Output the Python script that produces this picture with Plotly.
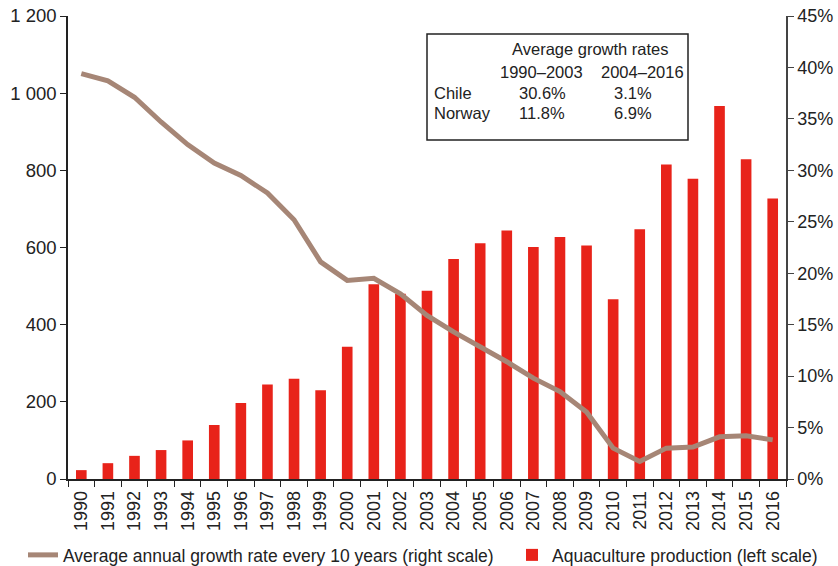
import plotly.graph_objects as go

years = [str(y) for y in range(1990, 2017)]
production = [23, 41, 60, 75, 100, 140, 197, 245, 260, 230, 343, 505, 480, 488,
              570, 611, 644, 601, 627, 605, 466, 647, 815, 778, 967, 829, 727]
growth_rate = [39.4, 38.7, 37.1, 34.7, 32.5, 30.7, 29.5, 27.8, 25.2, 21.1, 19.3, 19.5, 18.0,
               15.9, 14.3, 12.9, 11.4, 9.8, 8.5, 6.5, 3.0, 1.7, 3.0, 3.1, 4.1, 4.2, 3.8]

left_ticks = [0, 200, 400, 600, 800, 1000, 1200]
left_labels = ["0", "200", "400", "600", "800", "1 000", "1 200"]
right_ticks = [0, 5, 10, 15, 20, 25, 30, 35, 40, 45]
right_labels = [f"{v}%" for v in right_ticks]

table_header = "Average growth rates"
table_periods = ["1990\u20132003", "2004\u20132016"]
table_countries = ["Chile", "Norway"]
table_values = [["30.6%", "3.1%"], ["11.8%", "6.9%"]]

FONT = "Liberation Sans, Arial, sans-serif"
RED = "#e8231a"
BROWN = "#a68676"
TXT = "#222222"

# Figure fills the window (page body margin is removed below)
W, H = 838, 566
# plot area in pixels
L, R, T, B = 68, 786, 16, 479

def px_x(px):
    return (px - L) / (R - L)

def px_y(py):
    return (B - py) / (B - T)

fig = go.Figure()
fig.add_trace(go.Scatter(
    x=years, y=growth_rate, yaxis="y2", mode="lines",
    line=dict(color=BROWN, width=5), legend="legend",
    name="Average annual growth rate every 10 years (right scale)"))
fig.add_trace(go.Bar(
    x=years, y=production, marker=dict(color=RED, line=dict(width=0)),
    width=0.4, legend="legend2", name="Aquaculture production (left scale)"))

legend_common = dict(orientation="h", xanchor="left", yanchor="middle",
                     font=dict(family=FONT, size=17.5, color=TXT), itemwidth=30,
                     bgcolor="rgba(0,0,0,0)", borderwidth=0)

fig.update_layout(
    width=W, height=H,
    margin=dict(l=L, r=W - R, t=T, b=H - B, autoexpand=False),
    paper_bgcolor="white", plot_bgcolor="white",
    font=dict(family=FONT, size=18, color=TXT),
    showlegend=True,
    legend=dict(x=px_x(23), y=px_y(555), **legend_common),
    legend2=dict(x=px_x(512), y=px_y(555), **legend_common),
    xaxis=dict(type="category", range=[-0.5, 26.5], showline=True, linecolor=TXT,
               linewidth=1.5, ticks="outside", ticklen=6, tickcolor=TXT,
               tickson="boundaries", tickangle=-90, tickfont=dict(size=18),
               ticklabelstandoff=3,
               showgrid=False, zeroline=False, automargin=False,
               ticklabeloverflow="allow"),
    yaxis=dict(range=[0, 1200], tickvals=left_ticks, ticktext=left_labels,
               showline=True, linecolor=TXT, linewidth=1.5, ticks="outside",
               ticklen=6, tickcolor=TXT, showgrid=False, zeroline=False,
               tickfont=dict(size=18.5), automargin=False, ticklabeloverflow="allow"),
    yaxis2=dict(range=[0, 45], tickvals=right_ticks, ticktext=right_labels,
                overlaying="y", side="right", showline=True, linecolor="#444444",
                linewidth=1.5, ticks="outside", ticklen=6, tickcolor="#444444",
                showgrid=False, zeroline=False, tickfont=dict(size=18), automargin=False,
                ticklabeloverflow="allow"),
)

# Table box
fig.add_shape(type="rect", xref="paper", yref="paper",
              x0=px_x(427), x1=px_x(688), y0=px_y(140), y1=px_y(34),
              line=dict(color=TXT, width=1.5), fillcolor="white")

ann = []
ann.append(dict(text=table_header, x=px_x(590), y=px_y(49)))
ann.append(dict(text=table_periods[0], x=px_x(541), y=px_y(72)))
ann.append(dict(text=table_periods[1], x=px_x(642), y=px_y(72)))
for i, (c, vals) in enumerate(zip(table_countries, table_values)):
    yy = px_y(93 + 20.5 * i)
    ann.append(dict(text=c, x=px_x(432), y=yy, xanchor="left"))
    ann.append(dict(text=vals[0], x=px_x(542), y=yy))
    ann.append(dict(text=vals[1], x=px_x(633), y=yy))
for a in ann:
    fig.add_annotation(xref="paper", yref="paper", showarrow=False,
                       xanchor=a.get("xanchor", "center"), yanchor="middle",
                       x=a["x"], y=a["y"], text=a["text"],
                       font=dict(family=FONT, size=16.5, color=TXT))

fig.write_html("out.html", config={"displayModeBar": False},
               post_script="document.body.style.margin='0';document.body.style.overflow='hidden';")
